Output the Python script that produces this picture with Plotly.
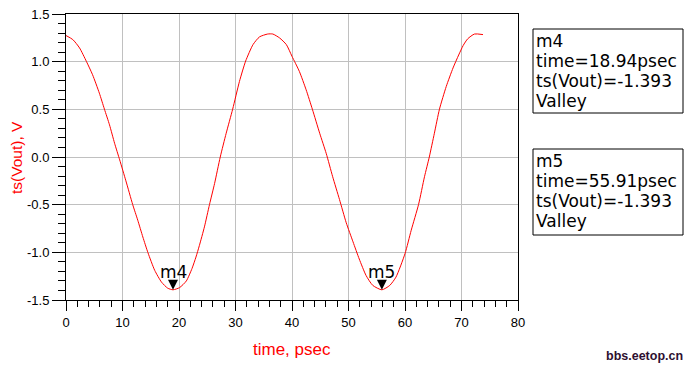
import plotly.graph_objects as go

# ---- data ----
t_ps = [0.0, 1.2, 2.4, 3.6, 4.7, 5.9, 6.8, 7.7, 8.6, 9.5, 10.6, 11.8, 12.7, 13.6,
        14.5, 15.7, 16.9, 18.0, 18.94, 20.1, 21.3, 22.3, 23.0, 23.6, 24.5, 25.4, 26.3,
        27.3, 28.35, 29.5, 30.7, 31.8, 33.1, 34.25, 35.7, 36.6, 37.8, 39.0, 40.0, 41.3,
        42.5, 43.6, 44.9, 46.05, 47.2, 48.4, 49.6, 50.8, 51.9, 53.1, 54.3, 55.91, 57.3,
        58.4, 60.0, 61.1, 62.4, 63.45, 64.3, 65.2, 66.1, 67.3, 68.5, 69.5, 70.3, 71.1,
        72.3, 73.8]
vout = [1.274, 1.232, 1.144, 1.004, 0.863, 0.670, 0.502, 0.337, 0.144, -0.030, -0.250,
        -0.498, -0.663, -0.839, -1.003, -1.189, -1.312, -1.376, -1.393, -1.370,
        -1.300, -1.170, -1.050, -0.930, -0.733, -0.498, -0.277, 0.000, 0.249, 0.502,
        0.793, 1.007, 1.179, 1.260, 1.290, 1.290, 1.249, 1.179, 1.056, 0.898, 0.705,
        0.502, 0.249, 0.039, -0.207, -0.445, -0.690, -0.890, -1.070, -1.242, -1.347,
        -1.393, -1.347, -1.260, -1.014, -0.768, -0.498, -0.207, 0.000, 0.249, 0.502,
        0.740, 0.934, 1.070, 1.170, 1.240, 1.290, 1.284]

marker_names = ["m4", "m5"]
marker_t = [18.94, 55.91]
marker_v = [-1.393, -1.393]
marker_kind = ["Valley", "Valley"]

x_tick_vals = [0, 10, 20, 30, 40, 50, 60, 70, 80]
x_tick_text = ["0", "10", "20", "30", "40", "50", "60", "70", "80"]
y_tick_vals = [-1.5, -1.0, -0.5, 0.0, 0.5, 1.0, 1.5]
y_tick_text = ["-1.5", "-1.0", "-0.5", "0.0", "0.5", "1.0", "1.5"]

x_title = "time, psec"
y_title = "ts(Vout), V"
watermark = "bbs.eetop.cn"

# ---- layout geometry (screen pixels; page body has an 8px margin) ----
OX, OY = 8, 8
W, H = 678, 356
PL, PR, PT, PB = 66, 518, 14, 300          # plot area in screen pixels
ML, MT = PL - OX, PT - OY
MR, MB = W - (PR - OX), H - (PB - OY)
PW, PH = PR - PL, PB - PT


def px(xs):
    return (xs - PL) / PW


def py(ys):
    return (PB - ys) / PH


TICK_FONT = dict(family="Liberation Sans, Arial, sans-serif", size=13, color="#000000")
MK_FONT = dict(family="DejaVu Sans, Arial, sans-serif", size=17, color="#000000")
RED = "#ff0000"

fig = go.Figure()
fig.add_trace(go.Scatter(x=t_ps, y=vout, mode="lines",
                         line=dict(color=RED, width=1, shape="spline", smoothing=0.6),
                         hoverinfo="skip", showlegend=False))

shapes = []
annotations = []

# valley markers
for name, t, v in zip(marker_names, marker_t, marker_v):
    shapes.append(dict(type="path", xref="x", yref="y", xsizemode="pixel", ysizemode="pixel",
                       xanchor=t, yanchor=v, path="M -5,10 L 5,10 L 0,0 Z",
                       fillcolor="#000000", line=dict(width=0)))
    annotations.append(dict(x=t, y=v, xref="x", yref="y", text=name, showarrow=False,
                            yshift=18, xanchor="center", yanchor="middle", font=MK_FONT))

# marker readout boxes
box_tops = [29, 149]
box_heights = [84, 86]
for i, (name, t, v, kind) in enumerate(zip(marker_names, marker_t, marker_v, marker_kind)):
    top = box_tops[i]
    shapes.append(dict(type="rect", xref="paper", yref="paper",
                       x0=px(533), x1=px(683), y0=py(top), y1=py(top + box_heights[i]),
                       line=dict(color="#000000", width=1), fillcolor="rgba(0,0,0,0)"))
    lines = [name, f"time={t:.2f}psec", f"ts(Vout)={v:.3f}", kind]
    for j, txt in enumerate(lines):
        annotations.append(dict(x=px(534), y=py(top + 12 + 20 * j), xref="paper", yref="paper",
                                text=txt, showarrow=False, xanchor="left", yanchor="middle",
                                font=MK_FONT))

# axis titles
annotations.append(dict(x=px(16), y=py(158), xref="paper", yref="paper", text=y_title,
                        textangle=-90, showarrow=False, xanchor="center", yanchor="middle",
                        font=dict(family="Liberation Sans, Arial, sans-serif", size=15.5, color=RED)))
annotations.append(dict(x=px(292), y=py(349), xref="paper", yref="paper", text=x_title,
                        showarrow=False, xanchor="center", yanchor="middle",
                        font=dict(family="Liberation Sans, Arial, sans-serif", size=17, color=RED)))
# watermark
annotations.append(dict(x=px(685), y=py(356), xref="paper", yref="paper", text=watermark,
                        showarrow=False, xanchor="right", yanchor="middle",
                        font=dict(family="Liberation Sans, Arial, sans-serif",
                                  size=12.5, color="#2e1030", weight="bold")))

axis_common = dict(showline=True, linecolor="#000000", linewidth=1, mirror=True,
                   showgrid=True, gridcolor="#c0c0c0", gridwidth=1, zeroline=False,
                   ticks="outside", tickcolor="#000000", tickwidth=1, tickfont=TICK_FONT,
                   ticklabeloverflow="allow", automargin=False, fixedrange=True)

fig.update_layout(
    width=W, height=H,
    margin=dict(l=ML, r=MR, t=MT, b=MB, pad=0, autoexpand=False),
    paper_bgcolor="#ffffff", plot_bgcolor="#ffffff",
    showlegend=False,
    xaxis=dict(range=[0, 80], tickmode="array", tickvals=x_tick_vals, ticktext=x_tick_text,
               ticklen=10, minor=dict(dtick=2, ticklen=6, tickcolor="#000000", ticks="outside",
                                      showgrid=False), **axis_common),
    yaxis=dict(range=[-1.5, 1.5], tickmode="array", tickvals=y_tick_vals, ticktext=y_tick_text,
               ticklen=13, minor=dict(dtick=0.1, ticklen=7, tickcolor="#000000", ticks="outside",
                                      showgrid=False), **axis_common),
    shapes=shapes,
    annotations=annotations,
)

fig.write_html("out.html")
